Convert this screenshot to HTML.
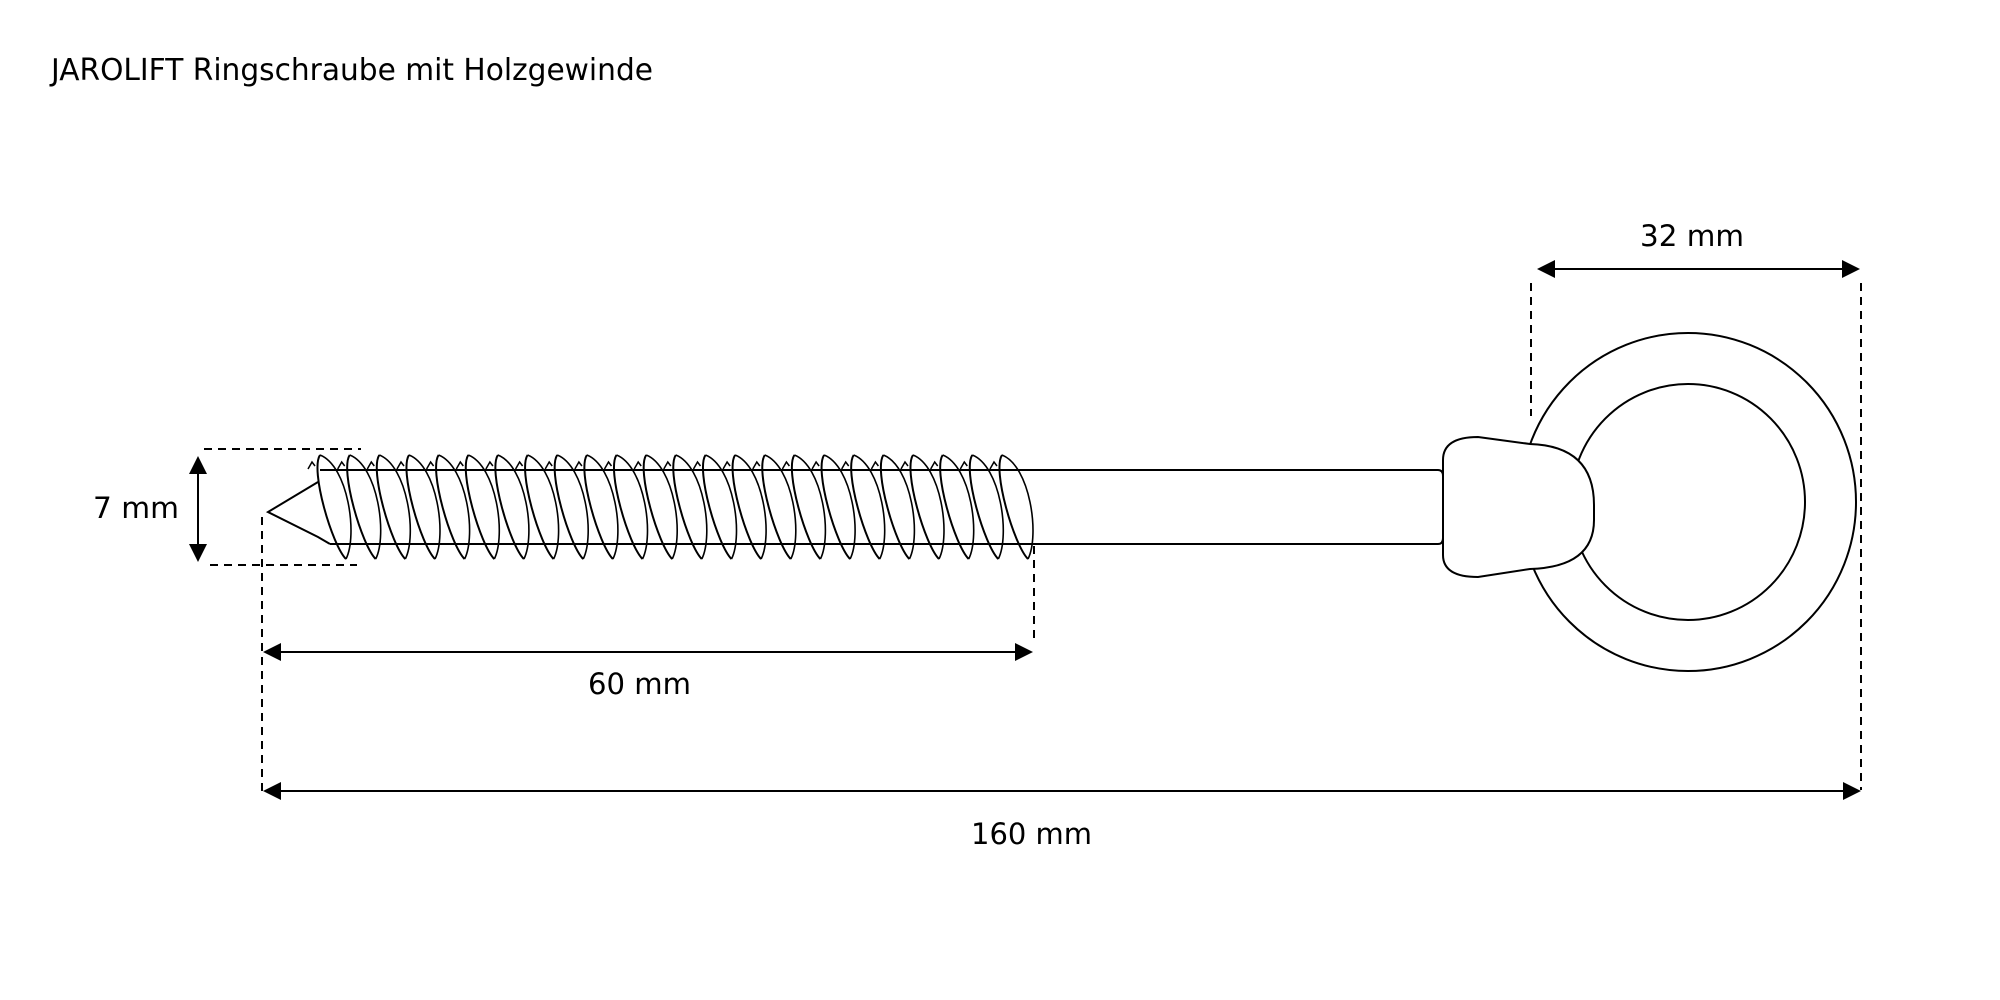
<!DOCTYPE html>
<html><head><meta charset="utf-8"><style>html,body{margin:0;padding:0;background:#fff}svg{display:block}</style></head>
<body>
<svg width="2000" height="1000" viewBox="0 0 2000 1000" xmlns="http://www.w3.org/2000/svg" font-family="DejaVu Sans, Liberation Sans, sans-serif">
<defs>
<g id="th">
<path d="M0,455 C-10,470 12,545 26,559" fill="none" stroke="#000" stroke-width="2"/>
<path d="M0,455 C28,466 38,535 26,559" fill="none" stroke="#000" stroke-width="1.6"/>
<path d="M-12,469 L-8,462 L-5,466" fill="none" stroke="#000" stroke-width="1.5"/>
</g>
</defs>
<text x="51" y="80" font-size="30" textLength="602" lengthAdjust="spacingAndGlyphs">JAROLIFT Ringschraube mit Holzgewinde</text>

<line x1="320" y1="470" x2="1438" y2="470" stroke="#000" stroke-width="2"/>
<line x1="330" y1="544" x2="1438" y2="544" stroke="#000" stroke-width="2"/>
<path d="M1438,470 Q1443,470 1443,476 L1443,538 Q1443,544 1438,544" fill="none" stroke="#000" stroke-width="2"/>
<path d="M318,482 L268,512 L318,537 L330,544" fill="none" stroke="#000" stroke-width="2"/>
<g>
<use href="#th" x="320"/><use href="#th" x="349.7"/><use href="#th" x="379.3"/><use href="#th" x="409"/>
<use href="#th" x="438.6"/><use href="#th" x="468.3"/><use href="#th" x="497.9"/><use href="#th" x="527.6"/>
<use href="#th" x="557.2"/><use href="#th" x="586.9"/><use href="#th" x="616.5"/><use href="#th" x="646.2"/>
<use href="#th" x="675.8"/><use href="#th" x="705.5"/><use href="#th" x="735.1"/><use href="#th" x="764.8"/>
<use href="#th" x="794.4"/><use href="#th" x="824.1"/><use href="#th" x="853.7"/><use href="#th" x="883.4"/>
<use href="#th" x="913"/><use href="#th" x="942.7"/><use href="#th" x="972.3"/><use href="#th" x="1002"/>
</g>
<ellipse cx="1688" cy="502" rx="168" ry="169" fill="none" stroke="#000" stroke-width="2"/>
<ellipse cx="1688" cy="502" rx="117" ry="118" fill="none" stroke="#000" stroke-width="2"/>
<path d="M1443,470 L1443,460 Q1443,437 1478,437 L1530,444 Q1594,446 1594,505 L1594,520 Q1594,567 1530,569 L1478,577 Q1443,577 1443,555 Z" fill="#fff" stroke="#000" stroke-width="2"/>

<g stroke="#000" stroke-width="2" stroke-dasharray="8,6" fill="none">
<line x1="204" y1="449" x2="361" y2="449"/>
<line x1="210" y1="565" x2="357" y2="565"/>
<line x1="262" y1="517" x2="262" y2="791"/>
<line x1="1034" y1="546" x2="1034" y2="640"/>
<line x1="1861" y1="283" x2="1861" y2="790"/>
<line x1="1531" y1="283" x2="1531" y2="416"/>
</g>
<g stroke="#000" stroke-width="2">
<line x1="198" y1="470" x2="198" y2="548"/>
<line x1="280" y1="652" x2="1016" y2="652"/>
<line x1="280" y1="791" x2="1845" y2="791"/>
<line x1="1552" y1="269" x2="1845" y2="269"/>
</g>
<g fill="#000">
<polygon points="198,456 189,474 207,474"/><polygon points="198,562 189,544 207,544"/>
<polygon points="263,652 281,643 281,661"/><polygon points="1033,652 1015,643 1015,661"/>
<polygon points="263,791 281,782 281,800"/><polygon points="1861,791 1843,782 1843,800"/>
<polygon points="1537,269 1555,260 1555,278"/><polygon points="1860,269 1842,260 1842,278"/>
</g>
<g font-size="29">
<text x="93" y="518" textLength="86" lengthAdjust="spacingAndGlyphs">7 mm</text>
<text x="588" y="694" textLength="103" lengthAdjust="spacingAndGlyphs">60 mm</text>
<text x="971" y="844" textLength="121" lengthAdjust="spacingAndGlyphs">160 mm</text>
<text x="1640" y="246" textLength="104" lengthAdjust="spacingAndGlyphs">32 mm</text>
</g>
</svg>
</body></html>
